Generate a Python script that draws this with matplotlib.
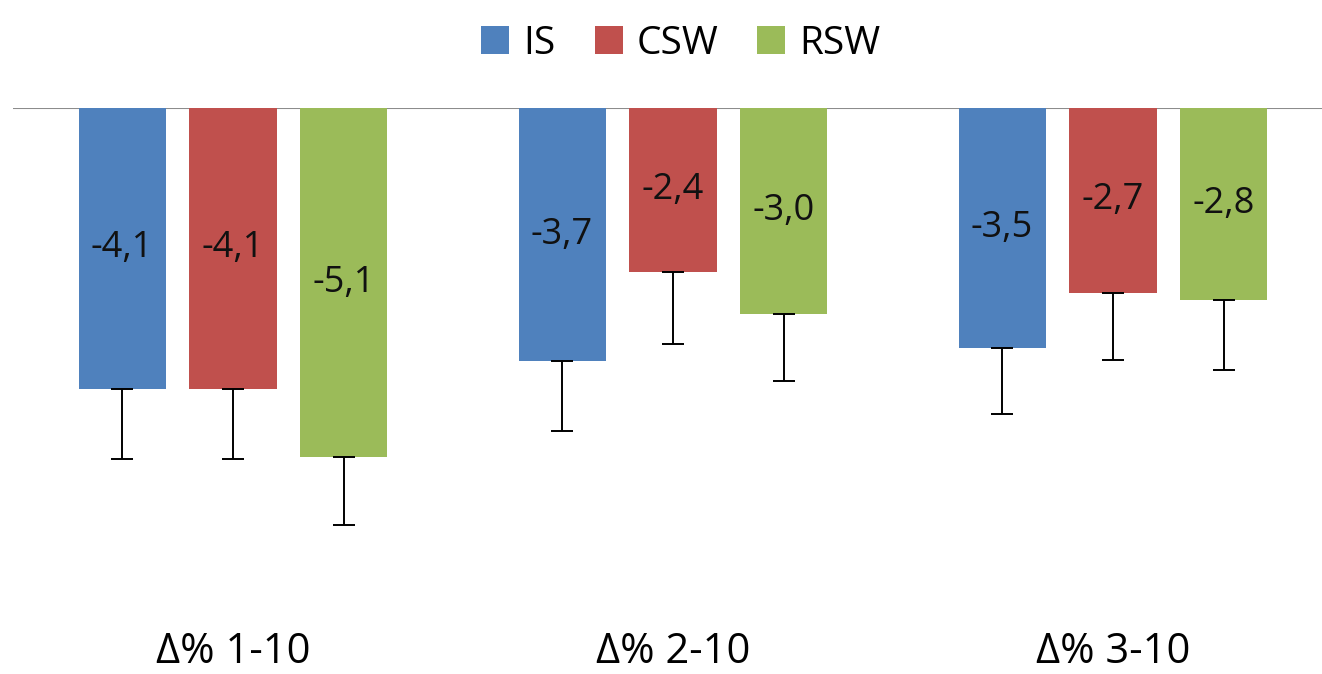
import numpy as np
import matplotlib.pyplot as plt

# Data
categories = ["Δ% 1-10", "Δ% 2-10", "Δ% 3-10"]
series = ["IS", "CSW", "RSW"]
is_vals = [-4.1, -3.7, -3.5]
csw_vals = [-4.1, -2.4, -2.7]
rsw_vals = [-5.1, -3.0, -2.8]
is_err = [1.02, 1.02, 0.97]
csw_err = [1.02, 1.04, 0.98]
rsw_err = [0.98, 0.98, 1.02]

colors = ["#4F81BD", "#C0504D", "#9BBB59"]

plt.rcParams['font.family'] = ['Open Sans', 'DejaVu Sans']

fig = plt.figure(figsize=(13.22, 6.74), dpi=100)
ax = fig.add_axes([0.0098, 0.128, 0.9902, 0.712])

x = np.arange(len(categories))
width = 0.198
offset = 0.252

values = [is_vals, csw_vals, rsw_vals]
errors = [is_err, csw_err, rsw_err]

for i, (name, vals, errs) in enumerate(zip(series, values, errors)):
    pos = x + (i - 1) * offset
    ax.bar(pos, vals, width, color=colors[i], label=name, zorder=2)
    # error bars only go downward
    ax.errorbar(pos, vals, yerr=[errs, [0] * len(errs)], fmt='none',
                ecolor='black', elinewidth=1.4, capsize=8, capthick=1.4, zorder=3)
    for p, v in zip(pos, vals):
        ax.text(p, v / 2, f"{v:.1f}".replace(".", ","), ha='center', va='center',
                fontsize=26, color='#111111', zorder=4)

ax.axhline(0, color='#8c8c8c', linewidth=1.5, zorder=1)

ax.set_xlim(-0.5, 2.475)
ax.set_ylim(-7.0, 0.0)
ax.set_xticks(x)
ax.set_xticklabels(categories, fontsize=30)
ax.tick_params(axis='x', length=0, pad=31)
ax.set_yticks([])
for s in ax.spines.values():
    s.set_visible(False)

leg = fig.legend(loc='upper center', bbox_to_anchor=(0.515, 1.015), ncol=3, frameon=False,
                 fontsize=28, handlelength=0.72, handleheight=0.72, handletextpad=0.36,
                 columnspacing=1.0)

fig.savefig("out.png", dpi=100)
